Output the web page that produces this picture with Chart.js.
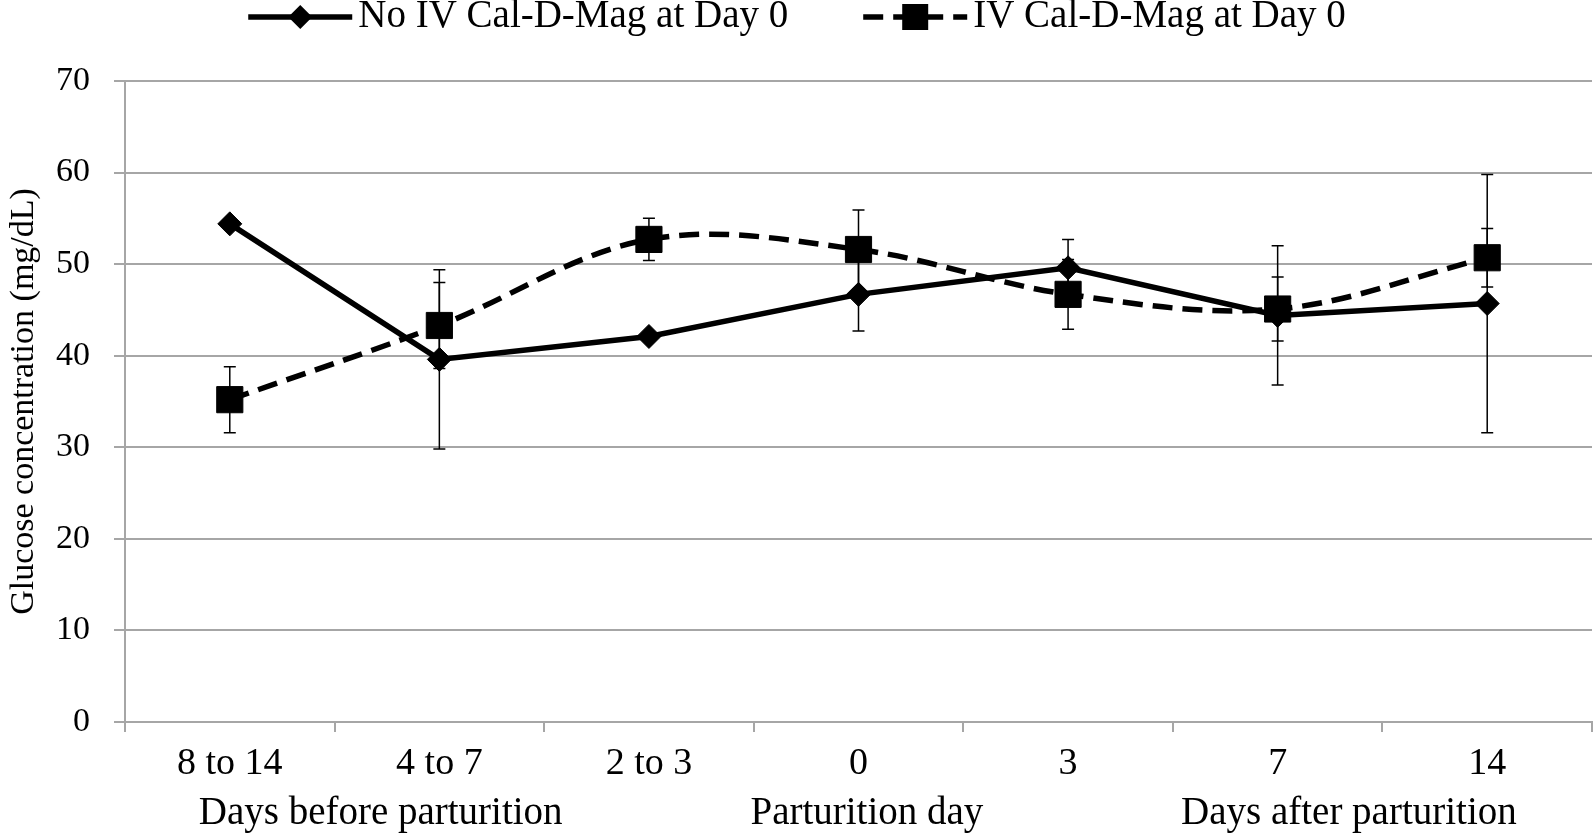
<!DOCTYPE html>
<html>

<head>
  <title>Glucose concentration</title>
  <script src="https://cdn.jsdelivr.net/npm/chart.js"></script>
  <style>
    body { margin: 0; background: #fff; }
  </style>
</head>

<body>
  <canvas id="glucoseChart" width="1594" height="833"></canvas>
  <script>
    // categories and group captions under the x axis
    const categories = ['8 to 14', '4 to 7', '2 to 3', '0', '3', '7', '14'];
    const groupLabels = ['Days before parturition', 'Parturition day', 'Days after parturition'];
    const groupAt = [0.72, 3.04, 5.34]; // category index where each caption is centred

    // series (mg/dL) and their error bars
    const seriesNames = ['No IV Cal-D-Mag at Day 0', 'IV Cal-D-Mag at Day 0'];
    const noIvValues = [54.4, 39.6, 42.1, 46.7, 49.6, 44.4, 45.7];
    const noIvErrors = [null, 9.8, null, 4.0, 3.1, 7.6, 14.1];
    const ivValues = [35.2, 43.3, 52.7, 51.6, 46.7, 45.1, 50.7];
    const ivErrors = [3.6, 4.7, 2.3, 4.3, 3.8, 3.5, 3.2];

    const yMin = 0, yMax = 70, yStep = 10;

    const serif = "'Liberation Serif', 'Times New Roman', serif";
    const gridGray = '#a6a6a6';
    Chart.defaults.font.family = serif;
    Chart.defaults.color = '#000';

    const errorBars = {
      id: 'errorBars',
      afterDatasetsDraw(chart) {
        const ctx = chart.ctx;
        const y = chart.scales.y;
        ctx.save();
        ctx.strokeStyle = '#000';
        ctx.lineWidth = 1.5;
        chart.data.datasets.forEach((ds, i) => {
          const meta = chart.getDatasetMeta(i);
          meta.data.forEach((pt, j) => {
            const e = ds.errors[j];
            if (e == null) return;
            const top = y.getPixelForValue(ds.data[j] + e);
            const bot = y.getPixelForValue(ds.data[j] - e);
            ctx.beginPath();
            ctx.moveTo(pt.x, top); ctx.lineTo(pt.x, bot);
            ctx.moveTo(pt.x - 6, top); ctx.lineTo(pt.x + 6, top);
            ctx.moveTo(pt.x - 6, bot); ctx.lineTo(pt.x + 6, bot);
            ctx.stroke();
          });
        });
        ctx.restore();
      }
    };

    // legend at the top and the group captions under the category labels
    const captions = {
      id: 'captions',
      afterDraw(chart) {
        const ctx = chart.ctx;
        const x = chart.scales.x;
        ctx.save();
        ctx.fillStyle = '#000';
        ctx.textBaseline = 'middle';
        ctx.textAlign = 'center';
        ctx.font = '39px ' + serif;
        groupLabels.forEach((t, i) => {
          ctx.fillText(t, x.getPixelForValue(groupAt[i]), chart.chartArea.bottom + 92);
        });

        // legend
        const sampleW = 104, gap = 6, itemGap = 75, ly = 17;
        ctx.font = '39px ' + serif;
        const w0 = ctx.measureText(seriesNames[0]).width;
        const w1 = ctx.measureText(seriesNames[1]).width;
        const total = sampleW * 2 + gap * 2 + w0 + w1 + itemGap;
        let lx = chart.width / 2 - total / 2;
        chart.data.datasets.forEach((ds, i) => {
          ctx.strokeStyle = '#000';
          ctx.lineWidth = 5.5;
          ctx.setLineDash(ds.borderDash || []);
          ctx.beginPath();
          ctx.moveTo(lx, ly); ctx.lineTo(lx + sampleW, ly);
          ctx.stroke();
          ctx.setLineDash([]);
          const cx = lx + sampleW / 2;
          ctx.beginPath();
          if (ds.pointStyle === 'rect') {
            ctx.rect(cx - 13, ly - 13, 26, 26);
          } else {
            ctx.moveTo(cx, ly - 12); ctx.lineTo(cx + 12, ly);
            ctx.lineTo(cx, ly + 12); ctx.lineTo(cx - 12, ly);
            ctx.closePath();
          }
          ctx.fill();
          ctx.textAlign = 'left';
          ctx.fillText(seriesNames[i], lx + sampleW + gap, ly);
          lx += sampleW + gap + (i === 0 ? w0 : w1) + itemGap;
        });
        ctx.restore();
      }
    };

    const ctx = document.getElementById('glucoseChart').getContext('2d');
    const chart = new Chart(ctx, {
      type: 'line',
      data: {
        labels: categories,
        datasets: [{
          label: seriesNames[0],
          data: noIvValues,
          errors: noIvErrors,
          borderColor: '#000',
          backgroundColor: '#000',
          borderWidth: 5.5,
          pointStyle: 'rectRot',
          pointRadius: 12,
          pointBorderWidth: 1,
          tension: 0,
          order: 1
        }, {
          label: seriesNames[1],
          data: ivValues,
          errors: ivErrors,
          borderColor: '#000',
          backgroundColor: '#000',
          borderWidth: 5.5,
          borderDash: [20, 10],
          pointStyle: 'rect',
          pointRadius: 18.5,
          pointBorderWidth: 1,
          tension: 0.35,
          order: 0
        }]
      },
      options: {
        responsive: false,
        animation: false,
        layout: { autoPadding: false, padding: { top: 81, right: 2, left: 0, bottom: 0 } },
        plugins: {
          legend: { display: false },
          tooltip: { enabled: false }
        },
        scales: {
          x: {
            offset: true,
            grid: {
              offset: true,
              drawOnChartArea: false,
              drawTicks: true,
              tickLength: 10,
              color: gridGray,
              lineWidth: 2
            },
            border: { color: gridGray, width: 2 },
            ticks: { font: { size: 38 }, padding: 9, maxRotation: 0 },
            afterFit(scale) { scale.height = 111; }
          },
          y: {
            min: yMin,
            max: yMax,
            grid: { color: gridGray, lineWidth: 2, tickLength: 11 },
            border: { color: gridGray, width: 2 },
            ticks: { stepSize: yStep, font: { size: 34 }, padding: 24 },
            title: {
              display: true,
              text: 'Glucose concentration (mg/dL)',
              font: { size: 34 },
              padding: { top: 4, bottom: 4 }
            },
            afterFit(scale) { scale.width = 125; }
          }
        }
      },
      plugins: [errorBars, captions]
    });
  </script>
</body>

</html>
